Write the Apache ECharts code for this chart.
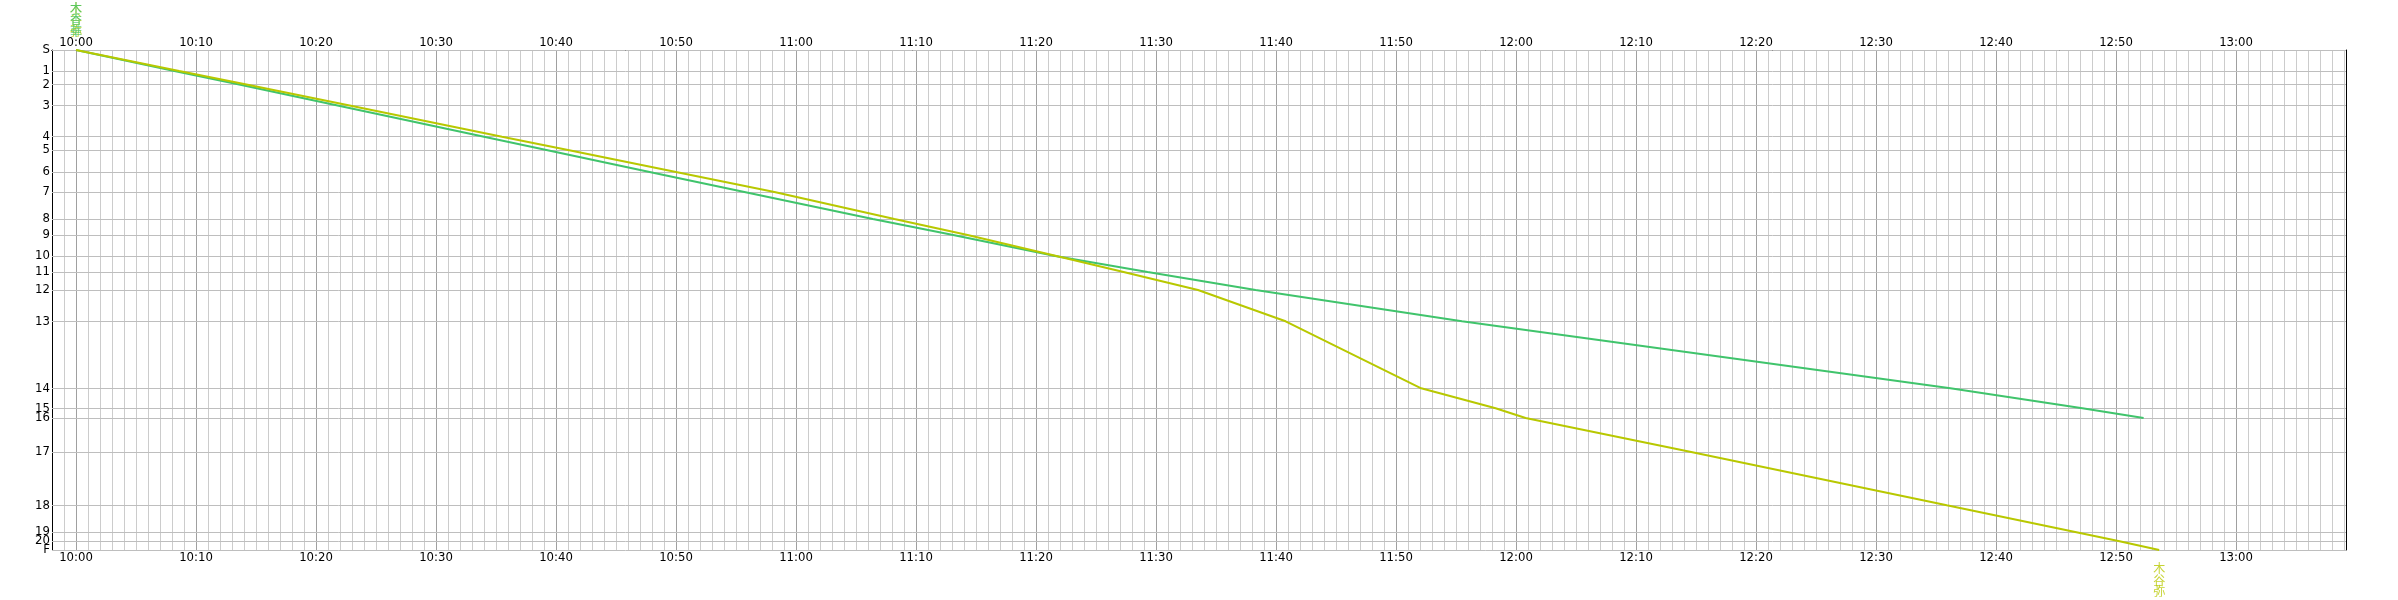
<!DOCTYPE html>
<html><head><meta charset="utf-8">
<script src="https://cdn.jsdelivr.net/npm/echarts@6/dist/echarts.min.js"></script>
<style>html,body{margin:0;padding:0;background:#fff}#c{width:2398px;height:600px}</style>
</head><body><div id="c"></div>
<script>
// ---- data ----
const stationNames = ['S','1','2','3','4','5','6','7','8','9','10','11','12','13','14','15','16','17','18','19','20','F'];
const stationPos   = [0,21,34.3,55.3,86.7,100,122,142,169,185,206,222,240,271.3,338.3,358.3,368,402,455.3,482,491,500];

const greenName = '木香華';
const greenTimes = ['10:00:00','10:08:12','10:13:30','10:21:42','10:34:00','10:39:12','10:47:48','10:55:42',
  '11:06:24','11:13:06','11:21:36','11:29:18','11:38:18','11:55:30','12:36:12','12:47:12','12:52:18'];

const yellowName = '木谷弥';
const yellowTimes = ['10:00:00','10:08:36','10:14:06','10:22:42','10:35:30','10:41:00','10:50:00','10:58:12',
  '11:08:12','11:14:18','11:21:42','11:27:18','11:33:30','11:40:48','11:52:06','11:58:18','12:00:48',
  '12:14:36','12:35:54','12:46:36','12:50:12','12:53:36'];

const majorTimes = ['10:00','10:10','10:20','10:30','10:40','10:50','11:00','11:10','11:20','11:30','11:40','11:50',
  '12:00','12:10','12:20','12:30','12:40','12:50','13:00'];

const axisStart = '9:58:00';
const axisEnd   = '13:09:10';

// ---- helpers ----
function toMin(s){ const p = s.split(':').map(Number); return p[0]*60 + p[1] + (p[2]||0)/60; }
function fmt(v){ const m = Math.round(v); const h = Math.floor(m/60); const mm = m%60; return h + ':' + (mm<10?'0':'') + mm; }
const FONT = "'Liberation Sans Narrow','DejaVu Sans Condensed','Noto Sans',sans-serif";
const CJK = "'Noto Sans CJK JP',sans-serif";
const GREEN = '#40c46c', YELLOW = '#b8c800';

const greenData = greenTimes.map((t,i)=>[toMin(t), stationPos[i]]);
const yellowData = yellowTimes.map((t,i)=>[toMin(t), stationPos[i]]);

const xCommon = {
  type:'value', min: toMin(axisStart), max: toMin(axisEnd), interval: 1,
  axisLine:{show:true, lineStyle:{color:'#000', width:1}},
  axisTick:{show:false},
  axisLabel:{ interval:0, margin:1, color:'#000', fontFamily:FONT, fontSize:13,
    showMinLabel:false, showMaxLabel:false,
    formatter: v => (Math.round(v) % 10 === 0 && Math.abs(v-Math.round(v))<1e-6) ? fmt(v) : '' }
};

const nameLabel = (name, color, pos) => ({show:true, position:pos, distance:13,
  formatter: name.split('').join('\n'), color:color, fontSize:12, lineHeight:11.5, fontFamily:CJK});

const chart = echarts.init(document.getElementById('c'), null, {renderer:'canvas'});
chart.setOption({
  animation:false,
  backgroundColor:'#fff',
  grid:{left:52, top:50, right:52, bottom:50, containLabel:false},
  xAxis:[
    Object.assign({}, xCommon, {position:'bottom', splitLine:{show:true, lineStyle:{color:'#cccccc', width:1}}}),
    Object.assign({}, xCommon, {position:'top', splitLine:{show:false}})
  ],
  yAxis:[
    {type:'value', inverse:true, min:0, max:500, position:'left',
     axisLine:{show:true, lineStyle:{color:'#000', width:1}}, axisTick:{show:false}, axisLabel:{show:false}, splitLine:{show:false}},
    {type:'value', inverse:true, min:0, max:500, position:'right',
     axisLine:{show:true, lineStyle:{color:'#000', width:1}}, axisTick:{show:false}, axisLabel:{show:false}, splitLine:{show:false}}
  ],
  series:[
    { type:'line', data:[], silent:true, z:1,
      markLine:{ silent:true, symbol:'none', animation:false,
        lineStyle:{color:'#a0a0a0', width:1, type:'solid'}, label:{show:false}, emphasis:{disabled:true},
        data: majorTimes.map(t=>({xAxis: toMin(t)})) } },
    { type:'line', data:[], silent:true, z:1,
      markLine:{ silent:true, symbol:'none', animation:false,
        lineStyle:{color:'#bebebe', width:1, type:'solid'},
        label:{show:true, position:'start', distance:2, formatter:'{b}', color:'#000', fontFamily:FONT, fontSize:13},
        emphasis:{disabled:true},
        data: stationPos.map((d,i)=>({name: stationNames[i], yAxis: d})) } },
    { type:'line', data:[], silent:true, z:1,
      markLine:{ silent:true, symbol:'none', animation:false,
        lineStyle:{opacity:0},
        label:{show:true, position:'end', distance:3, formatter:'{b}', color:'#000', fontFamily:FONT, fontSize:13},
        emphasis:{disabled:true},
        data: stationPos.map((d,i)=>({name: stationNames[i], yAxis: d})) } },
    { name:greenName, type:'line', data:greenData, showSymbol:false, z:5, clip:false,
      lineStyle:{color:GREEN, width:2}, itemStyle:{color:GREEN}, emphasis:{disabled:true} },
    { name:yellowName, type:'line', data:yellowData, showSymbol:false, z:6, clip:false,
      lineStyle:{color:YELLOW, width:2}, itemStyle:{color:YELLOW}, emphasis:{disabled:true} },
    { type:'scatter', z:7, clip:false, symbolSize:0, itemStyle:{color:'rgba(0,0,0,0)'}, silent:true,
      data:[
        {value: yellowData[0], label: nameLabel(yellowName, YELLOW, 'top')},
        {value: greenData[0], label: nameLabel(greenName, GREEN, 'top')},
        {value: yellowData[yellowData.length-1], label: nameLabel(yellowName, YELLOW, 'bottom')}
      ] }
  ]
});
</script>
</body></html>
